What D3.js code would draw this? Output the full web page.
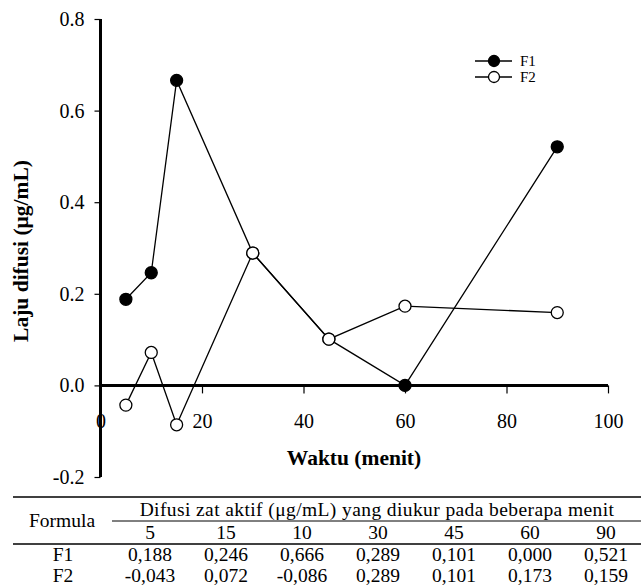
<!DOCTYPE html>
<html>
<head>
<meta charset="utf-8">
<script src="https://cdn.jsdelivr.net/npm/d3@7"></script>
<style>
  body { margin: 0; background: #fff; }
</style>
</head>
<body>
<div id="chart"></div>
<script>
// data
const times = [5, 10, 15, 30, 45, 60, 90];
const f1 = [0.188, 0.246, 0.666, 0.289, 0.101, 0.000, 0.521];
const f2 = [-0.043, 0.072, -0.086, 0.289, 0.101, 0.173, 0.159];
const xTicks = [0, 20, 40, 60, 80, 100];
const yTicks = [-0.2, 0.0, 0.2, 0.4, 0.6, 0.8];
// table header as printed (15 and 10 swapped in the source)
const tableHeader = ["5", "15", "10", "30", "45", "60", "90"];
const tableF1 = ["0,188", "0,246", "0,666", "0,289", "0,101", "0,000", "0,521"];
const tableF2 = ["-0,043", "0,072", "-0,086", "0,289", "0,101", "0,173", "0,159"];

const width = 641, height = 585;
const FONT = "Liberation Serif";

const svg = d3.select("#chart").append("svg")
    .attr("width", width)
    .attr("height", height)
    .attr("font-family", FONT)
    .attr("viewBox", [0, 0, width, height]);

const x = d3.scaleLinear().domain([0, 100]).range([100.5, 608]);
const y = d3.scaleLinear().domain([-0.2, 0.8]).range([477, 19]);

// y axis
const yAxis = svg.append("g")
    .attr("transform", `translate(${x(0)},0)`)
    .call(d3.axisLeft(y).tickValues(yTicks).tickSize(6).tickPadding(10)
        .tickFormat(d => d.toFixed(1)))
    .attr("font-family", FONT)
    .attr("font-size", 20);
yAxis.select(".domain").attr("stroke-width", 3).attr("d", `M0,${y(-0.2)}V${y(0.8)}`);
yAxis.selectAll(".tick line").attr("stroke-width", 1.2);
yAxis.selectAll(".tick text").attr("fill", "#000");

// x axis along y = 0
const xAxis = svg.append("g")
    .attr("transform", `translate(0,${y(0)})`)
    .call(d3.axisBottom(x).tickValues(xTicks).tickSize(8).tickPadding(20))
    .attr("font-family", FONT)
    .attr("font-size", 20);
xAxis.select(".domain").attr("stroke-width", 3).attr("d", `M${x(0)},0H${x(100)}`);
xAxis.selectAll(".tick line").attr("stroke-width", 1.2);
xAxis.selectAll(".tick text").attr("fill", "#000");

// axis titles
svg.append("text")
    .attr("transform", `translate(28,251) rotate(-90)`)
    .attr("text-anchor", "middle")
    .attr("font-size", 21.5)
    .attr("font-weight", "bold")
    .text("Laju difusi (μg/mL)");

svg.append("text")
    .attr("x", 354)
    .attr("y", 465)
    .attr("text-anchor", "middle")
    .attr("font-size", 21.5)
    .attr("font-weight", "bold")
    .text("Waktu (menit)");

// series
const line = d3.line()
    .x(d => x(d[0]))
    .y(d => y(d[1]));

const series = [
    { name: "F1", values: f1, fill: "#000" },
    { name: "F2", values: f2, fill: "#fff" }
];

series.forEach(s => {
    const pts = times.map((t, i) => [t, s.values[i]]);
    svg.append("path")
        .datum(pts)
        .attr("fill", "none")
        .attr("stroke", "#000")
        .attr("stroke-width", 1.3)
        .attr("d", line);
    svg.append("g")
        .selectAll("circle")
        .data(pts)
        .join("circle")
        .attr("cx", d => x(d[0]))
        .attr("cy", d => y(d[1]))
        .attr("r", 6)
        .attr("fill", s.fill)
        .attr("stroke", "#000")
        .attr("stroke-width", 1.3);
});

// legend
const legend = svg.append("g");
series.forEach((s, i) => {
    const ly = 61 + i * 16;
    legend.append("line")
        .attr("x1", 475).attr("x2", 512)
        .attr("y1", ly).attr("y2", ly)
        .attr("stroke", "#000").attr("stroke-width", 1.3);
    legend.append("circle")
        .attr("cx", 494).attr("cy", ly).attr("r", 5.5)
        .attr("fill", s.fill).attr("stroke", "#000").attr("stroke-width", 1.3);
    legend.append("text")
        .attr("x", 520).attr("y", ly + 5)
        .attr("font-size", 15)
        .text(s.name);
});

// table
const colX = d3.scalePoint().domain(d3.range(tableHeader.length)).range([150, 606]);
const table = svg.append("g")
    .attr("font-size", 19.5)
    .attr("text-anchor", "middle");

table.append("line").attr("x1", 13).attr("x2", 641).attr("y1", 497).attr("y2", 497)
    .attr("stroke", "#000").attr("stroke-width", 1.5);
table.append("line").attr("x1", 112).attr("x2", 641).attr("y1", 521).attr("y2", 521)
    .attr("stroke", "#000").attr("stroke-width", 1);
table.append("line").attr("x1", 13).attr("x2", 641).attr("y1", 544).attr("y2", 544)
    .attr("stroke", "#000").attr("stroke-width", 1.5);

table.append("text").attr("x", 62).attr("y", 527).text("Formula");
table.append("text").attr("x", 377).attr("y", 516)
    .attr("letter-spacing", 0.4)
    .text("Difusi zat aktif (μg/mL) yang diukur pada beberapa menit");

table.selectAll(".hdr").data(tableHeader).join("text")
    .attr("class", "hdr")
    .attr("x", (d, i) => colX(i)).attr("y", 539).text(d => d);

[["F1", tableF1, 561], ["F2", tableF2, 582]].forEach(([name, vals, ry]) => {
    table.append("text").attr("x", 63).attr("y", ry).text(name);
    table.selectAll(".r" + name).data(vals).join("text")
        .attr("class", "r" + name)
        .attr("x", (d, i) => colX(i)).attr("y", ry).text(d => d);
});
</script>
</body>
</html>
